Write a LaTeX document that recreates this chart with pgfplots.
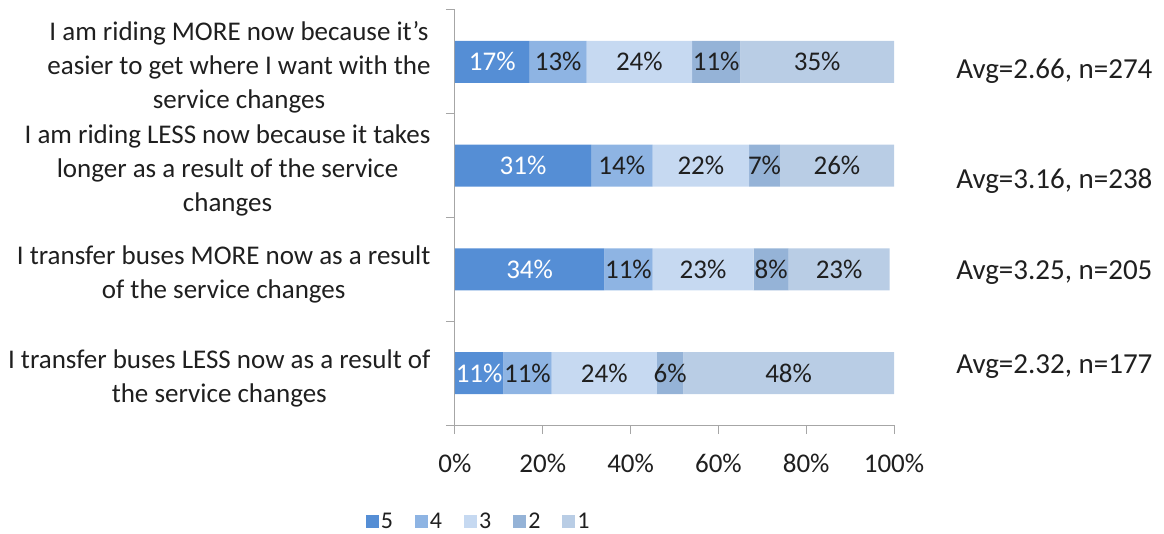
\documentclass[border=0pt]{standalone}
\usepackage{pgfplots}
\pgfplotsset{compat=1.18}
\usepackage{fontspec}
\setmainfont{Carlito}
\definecolor{c5}{HTML}{558ED5}
\definecolor{c4}{HTML}{8EB4E3}
\definecolor{c3}{HTML}{C6D9F1}
\definecolor{c2}{HTML}{95B3D7}
\definecolor{c1}{HTML}{B9CDE5}
\definecolor{txt}{HTML}{1F1F1F}
\definecolor{axisgray}{HTML}{A6A6A6}

\begin{document}
\begin{tikzpicture}[font=\fontsize{27}{34}\selectfont, text=txt]
\begin{axis}[
  xbar stacked,
  scale only axis,
  width=439pt, height=415pt,
  xmin=0, xmax=100,
  ymin=0.5, ymax=4.5,
  bar width=0.405,
  axis lines*=left,
  axis line style={draw=axisgray, line width=1pt},
  /pgf/number format/assume math mode=true,
  xtick={0,20,...,100},
  minor xtick={0,20,...,100},
  xticklabel={\pgfmathprintnumber{\tick}\%},
  ytick={1,2,3,4},
  yticklabels={
    {I transfer buses LESS now as a result of\\the service changes},
    {I transfer buses MORE now as a result\\of the service changes},
    {I am riding LESS now because it takes\\longer as a result of the service\\changes},
    {I am riding MORE now because it’s\\easier to get where I want with the\\service changes}},
  minor ytick={0.5,1.5,2.5,3.5,4.5},
  tick align=outside,
  major tick length=0pt,
  minor tick length=9pt,
  minor tick style={draw=axisgray, line width=1pt},
  yticklabel style={align=center, xshift=-21pt, yshift=-5pt},
  xticklabel style={yshift=-26pt},
  clip=false,
  nodes near coords={\pgfmathprintnumber{\pgfplotspointmeta}\%},
  every node near coord/.append style={text=txt},
  legend style={at={(0.054,-0.232)}, anchor=center, draw=none, fill=none,
    font=\fontsize{24}{28}\selectfont,
    legend columns=-1, /tikz/every even column/.append style={column sep=20pt}},
  legend image code/.code={\fill[#1] (0pt,-6.5pt) rectangle (13pt,6.5pt);},
]
\addplot[fill=c5, draw=none, every node near coord/.append style={text=white}]
  coordinates {(11,1) (34,2) (31,3) (17,4)};
\addlegendentry{5}
\addplot[fill=c4, draw=none] coordinates {(11,1) (11,2) (14,3) (13,4)};
\addlegendentry{4}
\addplot[fill=c3, draw=none] coordinates {(24,1) (23,2) (22,3) (24,4)};
\addlegendentry{3}
\addplot[fill=c2, draw=none] coordinates {(6,1) (8,2) (7,3) (11,4)};
\addlegendentry{2}
\addplot[fill=c1, draw=none] coordinates {(48,1) (23,2) (26,3) (35,4)};
\addlegendentry{1}

\node[anchor=west, font=\fontsize{29}{34}\selectfont] at (axis cs:113.4,3.91) {Avg=2.66, n=274};
\node[anchor=west, font=\fontsize{29}{34}\selectfont] at (axis cs:113.4,2.85) {Avg=3.16, n=238};
\node[anchor=west, font=\fontsize{29}{34}\selectfont] at (axis cs:113.4,1.97) {Avg=3.25, n=205};
\node[anchor=west, font=\fontsize{29}{34}\selectfont] at (axis cs:113.4,1.06) {Avg=2.32, n=177};
\path (rel axis cs:-1.0364,-0.2554) rectangle (rel axis cs:1.615,1.0241);
\end{axis}
\end{tikzpicture}
\end{document}
